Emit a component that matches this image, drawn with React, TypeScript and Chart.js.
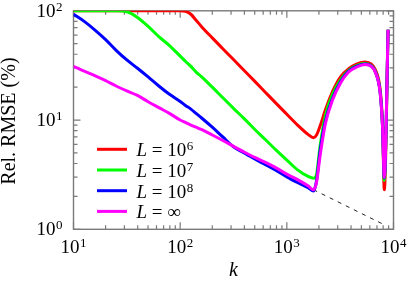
import React, { useEffect, useRef } from "react";
import { Chart, registerables } from "chart.js";

Chart.register(...registerables);

// ---------- data ----------
const kValues = [
  10, 12.6, 15.8, 20, 25.1, 31.6, 39.8, 50.1, 63.1, 79.4,
  100, 112, 126, 141, 158, 200, 251, 316, 398, 501,
  631, 794, 1000, 1260, 1580, 1780, 1900, 2050, 2300, 2700,
  3200, 3800, 4500, 5400, 6200, 6800, 7500, 7900, 8200, 8900,
];

const rmseL1e6 = [
  100, 100, 100, 100, 100, 100, 100, 100, 100, 100,
  100, 99, 93, 82, 72, 56.5, 45, 35.8, 28.4, 22.6,
  17.9, 14.2, 11.3, 9.0, 7.4, 6.9, 7.3, 8.8, 12.4, 18.5,
  25, 29.5, 32.5, 34, 32.5, 28.5, 19, 9, 2.3, 67,
];

const rmseL1e7 = [
  100, 100, 100, 100, 100, 98, 87, 72, 58, 48,
  38.5, 34.5, 31, 27.5, 25, 20, 16, 12.8, 10.3, 8.2,
  6.6, 5.3, 4.3, 3.5, 3.05, 2.93, 3.2, 5.8, 11, 17.5,
  23.5, 28.5, 31.5, 33, 31.5, 27.5, 18, 8.7, 2.8, 67,
];

const rmseL1e8 = [
  93, 80, 67, 54.5, 43.5, 35.5, 29.8, 24.8, 20.5, 17.2,
  14.8, 13.6, 12.6, 11.5, 10.5, 8.6, 7.0, 5.7, 5.0, 4.4,
  3.9, 3.45, 3.02, 2.68, 2.4, 2.24, 2.8, 5.2, 9.8, 16,
  22.5, 28, 31, 32.6, 31.2, 27.2, 17.8, 8.6, 2.95, 67,
];

const rmseLinf = [
  31, 28, 25.5, 23, 20.5, 18.5, 16.8, 14.7, 13, 11.5,
  10.0, 9.5, 9.0, 8.6, 8.2, 7.3, 6.5, 5.75, 5.1, 4.55,
  4.1, 3.65, 3.2, 2.85, 2.5, 2.3, 2.7, 4.7, 9.3, 15.5,
  22, 27.5, 30.5, 32.3, 31, 27, 17.7, 8.5, 3.0, 67,
];

const asymptoteK = [1780, 8200];
const asymptoteRmse = [2.3, 1.1];

const seriesExponents = ["6", "7", "8", "∞"];
const seriesColors = ["#ff0000", "#00ff00", "#0000ff", "#ff00ff"];

const xTickDecades = [1, 2, 3, 4];
const yTickDecades = [0, 1, 2];
const xTitle = "k";
const yTitle = "Rel. RMSE (%)";

// ---------- styling ----------
const FONT = '"Liberation Serif", "Times New Roman", serif';
const AXIS_COLOR = "#7a7a7a";
const BASE_SIZE = 19;
const EXP_SIZE = 13;
const TITLE_SIZE = 20;

function drawPower(ctx: CanvasRenderingContext2D, exp: string, x: number, baseline: number, align: string, expRaise: number) {
  ctx.font = `${BASE_SIZE}px ${FONT}`;
  const wb = ctx.measureText("10").width;
  ctx.font = `${EXP_SIZE}px ${FONT}`;
  const we = ctx.measureText(exp).width;
  const total = wb + we + 0.5;
  let start = x;
  if (align === "center") start = x - total / 2;
  else if (align === "right") start = x - total;
  ctx.textAlign = "left";
  ctx.textBaseline = "alphabetic";
  ctx.font = `${BASE_SIZE}px ${FONT}`;
  ctx.fillText("10", start, baseline);
  ctx.font = `${EXP_SIZE}px ${FONT}`;
  ctx.fillText(exp, start + wb + 0.5, baseline - expRaise);
}

const decorPlugin = {
  id: "decor",
  beforeDatasetsDraw(chart: any) {
    const { ctx, chartArea: a, scales } = chart;
    const xs = scales.x;
    const ys = scales.y;
    ctx.save();
    ctx.strokeStyle = AXIS_COLOR;
    ctx.lineWidth = 1.2;
    ctx.beginPath();
    xTickDecades.forEach((d, i) => {
      const major = Math.pow(10, d);
      const px = xs.getPixelForValue(major);
      ctx.moveTo(px, a.bottom); ctx.lineTo(px, a.bottom - 7);
      ctx.moveTo(px, a.top); ctx.lineTo(px, a.top + 7);
      if (i < xTickDecades.length - 1) {
        for (let m = 2; m <= 9; m++) {
          const p = xs.getPixelForValue(m * major);
          ctx.moveTo(p, a.bottom); ctx.lineTo(p, a.bottom - 4);
          ctx.moveTo(p, a.top); ctx.lineTo(p, a.top + 4);
        }
      }
    });
    yTickDecades.forEach((d, i) => {
      const major = Math.pow(10, d);
      const py = ys.getPixelForValue(major);
      ctx.moveTo(a.left, py); ctx.lineTo(a.left + 7, py);
      ctx.moveTo(a.right, py); ctx.lineTo(a.right - 7, py);
      if (i < yTickDecades.length - 1) {
        for (let m = 2; m <= 9; m++) {
          const p = ys.getPixelForValue(m * major);
          ctx.moveTo(a.left, p); ctx.lineTo(a.left + 4, p);
          ctx.moveTo(a.right, p); ctx.lineTo(a.right - 4, p);
        }
      }
    });
    ctx.stroke();
    ctx.lineWidth = 1.4;
    ctx.strokeRect(a.left, a.top, a.right - a.left, a.bottom - a.top);
    ctx.restore();
  },
  afterDraw(chart: any) {
    const { ctx, chartArea: a, scales } = chart;
    const xs = scales.x;
    const ys = scales.y;
    ctx.save();
    ctx.fillStyle = "#000";
    xTickDecades.forEach((d) => {
      const px = xs.getPixelForValue(Math.pow(10, d));
      drawPower(ctx, String(d), px, a.bottom + 24, "center", 6);
    });
    yTickDecades.forEach((d) => {
      const py = ys.getPixelForValue(Math.pow(10, d));
      drawPower(ctx, String(d), a.left - 11, py + 6, "right", 6);
    });
    ctx.font = `italic ${TITLE_SIZE}px ${FONT}`;
    ctx.textAlign = "center";
    ctx.textBaseline = "alphabetic";
    ctx.fillText(xTitle, (a.left + a.right) / 2, a.bottom + 47);
    ctx.save();
    ctx.translate(10, (a.top + a.bottom) / 2 + 1);
    ctx.rotate(-Math.PI / 2);
    ctx.font = `${TITLE_SIZE}px ${FONT}`;
    ctx.textAlign = "center";
    ctx.textBaseline = "middle";
    ctx.fillText(yTitle, 0, 0);
    ctx.restore();
    seriesExponents.forEach((e, i) => {
      const ly = a.top + 138.5 + i * 20.7;
      ctx.strokeStyle = seriesColors[i];
      ctx.lineWidth = 3;
      ctx.beginPath();
      ctx.moveTo(a.left + 23.5, ly);
      ctx.lineTo(a.left + 53.5, ly);
      ctx.stroke();
      let x = a.left + 63;
      const bl = ly + 7;
      ctx.textAlign = "left";
      ctx.textBaseline = "alphabetic";
      ctx.font = `italic ${BASE_SIZE}px ${FONT}`;
      ctx.fillText("L", x, bl);
      x += ctx.measureText("L").width;
      ctx.font = `${BASE_SIZE}px ${FONT}`;
      const eq = " = ";
      ctx.fillText(eq, x, bl);
      x += ctx.measureText(eq).width;
      if (e === "∞") {
        ctx.fillText("∞", x, bl);
      } else {
        drawPower(ctx, e, x, bl, "left", 6);
      }
    });
    ctx.restore();
  },
};

export default function App() {
  const canvasRef = useRef<HTMLCanvasElement | null>(null);

  useEffect(() => {
    document.body.style.margin = "0";
    const canvas = canvasRef.current;
    if (!canvas) return;
    const series = [rmseL1e6, rmseL1e7, rmseL1e8, rmseLinf];
    const datasets: any[] = series.map((vals, i) => ({
      label: "L = 10^" + seriesExponents[i],
      data: kValues.map((k, j) => ({ x: k, y: vals[j] })),
      borderColor: seriesColors[i],
      backgroundColor: seriesColors[i],
      borderWidth: 3,
      pointRadius: 0,
      fill: false,
      cubicInterpolationMode: "monotone",
      order: 4 - i,
    }));
    datasets.push({
      label: "asymptote",
      data: asymptoteK.map((k, j) => ({ x: k, y: asymptoteRmse[j] })),
      borderColor: "#222",
      borderWidth: 1,
      borderDash: [4, 5],
      pointRadius: 0,
      fill: false,
      order: 5,
    });
    const chart = new Chart(canvas, {
      type: "line",
      data: { datasets },
      options: {
        animation: false,
        responsive: false,
        devicePixelRatio: 1,
        layout: { padding: { left: 73.5, right: 13.5, top: 10.8, bottom: 58.7 } },
        plugins: { legend: { display: false }, tooltip: { enabled: false } },
        scales: {
          x: { type: "logarithmic", min: 10, max: 10000, display: false },
          y: { type: "logarithmic", min: 1, max: 100, display: false },
        },
      },
      plugins: [decorPlugin],
    });
    return () => chart.destroy();
  }, []);

  return (
    <div style={{ width: 407, height: 288 }}>
      <canvas ref={canvasRef} width={407} height={288} />
    </div>
  );
}
